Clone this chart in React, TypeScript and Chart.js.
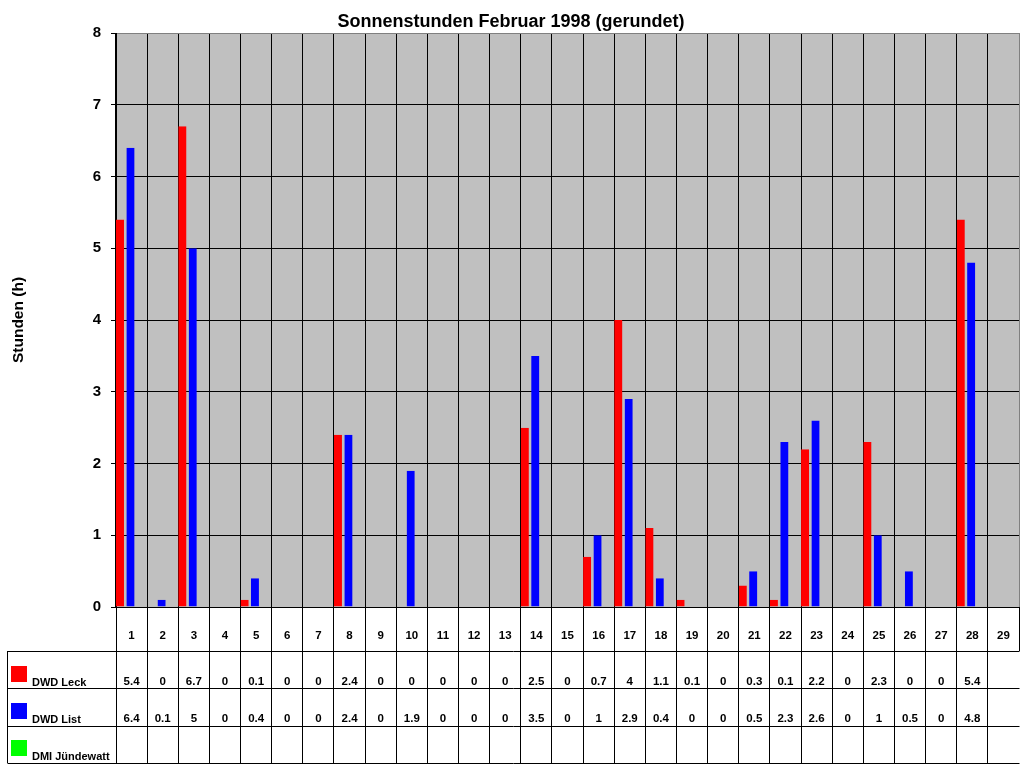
import { useEffect, useRef } from "react";
import { Chart, registerables } from "chart.js";

Chart.register(...registerables);

const days = [
  "1", "2", "3", "4", "5", "6", "7", "8", "9", "10",
  "11", "12", "13", "14", "15", "16", "17", "18", "19", "20",
  "21", "22", "23", "24", "25", "26", "27", "28", "29",
];

const dwdLeck: (number | null)[] = [
  5.4, 0, 6.7, 0, 0.1, 0, 0, 2.4, 0, 0,
  0, 0, 0, 2.5, 0, 0.7, 4, 1.1, 0.1, 0,
  0.3, 0.1, 2.2, 0, 2.3, 0, 0, 5.4, null,
];

const dwdList: (number | null)[] = [
  6.4, 0.1, 5, 0, 0.4, 0, 0, 2.4, 0, 1.9,
  0, 0, 0, 3.5, 0, 1, 2.9, 0.4, 0, 0,
  0.5, 2.3, 2.6, 0, 1, 0.5, 0, 4.8, null,
];

const dmiJuendewatt: (number | null)[] = [
  null, null, null, null, null, null, null, null, null, null,
  null, null, null, null, null, null, null, null, null, null,
  null, null, null, null, null, null, null, null, null,
];

const seriesNames = ["DWD Leck", "DWD List", "DMI Jündewatt"];
const seriesColors = ["#FF0000", "#0000FF", "#00FF00"];
const seriesValues = [dwdLeck, dwdList, dmiJuendewatt];

const titleText = "Sonnenstunden Februar 1998 (gerundet)";
const yTitleText = "Stunden (h)";
const yMin = 0;
const yMax = 8;
const yStep = 1;

const FONT = "'Liberation Sans', Arial, Helvetica, sans-serif";

function align(p: number) {
  return Math.round(p - 0.5) + 0.5;
}

const backgroundPlugin = {
  id: "plotBackground",
  beforeDraw(chart: any) {
    const { ctx, chartArea } = chart;
    const { left, top, right, bottom } = chartArea;
    ctx.save();
    ctx.fillStyle = "#C0C0C0";
    ctx.fillRect(left, top, right - left, bottom - top);
    ctx.restore();
  },
};

const tablePlugin = {
  id: "dataTable",
  afterDraw(chart: any) {
    const { ctx, chartArea } = chart;
    const { left, right, top, bottom } = chartArea;
    const n = days.length;
    const cw = (right - left) / n;
    const xScale = chart.scales.x;

    ctx.save();

    // Title
    ctx.fillStyle = "#000";
    ctx.font = `bold 18px ${FONT}`;
    ctx.textAlign = "center";
    ctx.textBaseline = "alphabetic";
    ctx.fillText(titleText, 511, 27);

    // Y title
    ctx.save();
    ctx.translate(19, (top + bottom) / 2);
    ctx.rotate(-Math.PI / 2);
    ctx.font = `bold 15.5px ${FONT}`;
    ctx.textAlign = "center";
    ctx.textBaseline = "middle";
    ctx.fillText(yTitleText, 0, 0);
    ctx.restore();

    // Table geometry
    const tableLeft = 7;
    const row1Bottom = 651;
    const rowLines = [651, 688.5, 726, 763];
    const tableBottom = 763;

    ctx.strokeStyle = "#000";
    ctx.lineWidth = 1;
    ctx.beginPath();
    for (let i = 0; i <= n; i++) {
      const x = align(left + i * cw);
      ctx.moveTo(x, bottom);
      ctx.lineTo(x, row1Bottom);
    }
    for (let i = 0; i < n; i++) {
      const x = align(left + i * cw);
      ctx.moveTo(x, row1Bottom);
      ctx.lineTo(x, tableBottom);
    }
    ctx.moveTo(align(tableLeft), row1Bottom);
    ctx.lineTo(align(tableLeft), tableBottom);
    for (const y of rowLines) {
      const yy = align(y);
      ctx.moveTo(align(tableLeft), yy);
      ctx.lineTo(align(right), yy);
    }
    ctx.stroke();

    // Day labels
    ctx.fillStyle = "#000";
    ctx.font = `bold 11.5px ${FONT}`;
    ctx.textAlign = "center";
    ctx.textBaseline = "middle";
    for (let i = 0; i < n; i++) {
      const cx = xScale.getPixelForValue(i);
      ctx.fillText(days[i], cx, 636);
    }

    // Data rows
    const baselines = [685, 722, 759];
    ctx.textBaseline = "alphabetic";
    for (let s = 0; s < seriesNames.length; s++) {
      const base = baselines[s];
      ctx.fillStyle = seriesColors[s];
      ctx.fillRect(11, base - 19, 16, 16);
      ctx.fillStyle = "#000";
      ctx.textAlign = "left";
      ctx.font = `bold 11px ${FONT}`;
      ctx.fillText(seriesNames[s], 32, base + 1);
      ctx.textAlign = "center";
      ctx.font = `bold 11.5px ${FONT}`;
      const vals = seriesValues[s];
      for (let i = 0; i < n; i++) {
        const v = vals[i];
        if (v === null || v === undefined) continue;
        const cx = xScale.getPixelForValue(i);
        ctx.fillText(String(v), cx, base);
      }
    }

    ctx.restore();
  },
};

export default function App() {
  const canvasRef = useRef<HTMLCanvasElement | null>(null);

  useEffect(() => {
    if (!canvasRef.current) return;
    const barBorder = { top: 0, left: 0, bottom: 0, right: 2.4 };
    const chart = new Chart(canvasRef.current, {
      type: "bar",
      data: {
        labels: days,
        datasets: seriesNames.map((name, s) => ({
          label: name,
          data: seriesValues[s],
          backgroundColor: seriesColors[s],
          borderColor: "rgba(0,0,0,0)",
          borderWidth: barBorder,
          borderSkipped: false,
          inflateAmount: 0,
          categoryPercentage: 1,
          barPercentage: 1,
        })),
      },
      options: {
        responsive: false,
        animation: false,
        devicePixelRatio: 1,
        layout: { padding: { top: 33, right: 5, left: 0, bottom: 0 } },
        plugins: {
          legend: { display: false },
          title: { display: false },
          tooltip: { enabled: false },
        },
        scales: {
          x: {
            offset: true,
            ticks: { display: false },
            grid: {
              offset: true,
              drawTicks: false,
              color: (c: any) => (c.type === "scale" ? "#808080" : "#000000"),
              lineWidth: 1,
            },
            border: { display: true, color: "#000000", width: 1 },
            afterFit: (scale: any) => {
              scale.height = 161;
            },
          },
          y: {
            min: yMin,
            max: yMax,
            ticks: {
              stepSize: yStep,
              color: "#000",
              padding: 10,
              font: { family: FONT, size: 15, weight: "bold" },
            },
            grid: {
              color: (c: any) =>
                c.tick && c.tick.value === yMax ? "#808080" : "#000000",
              tickColor: "#000000",
              tickLength: 5,
              lineWidth: 1,
            },
            border: { display: true, color: "#000000", width: 1 },
            afterFit: (scale: any) => {
              scale.width = 116;
            },
          },
        },
      },
      plugins: [backgroundPlugin, tablePlugin],
    });
    return () => chart.destroy();
  }, []);

  return (
    <div style={{ position: "absolute", left: 0, top: 0, width: 1024, height: 768, background: "#fff" }}>
      <canvas ref={canvasRef} width={1024} height={768} style={{ display: "block" }} />
    </div>
  );
}
